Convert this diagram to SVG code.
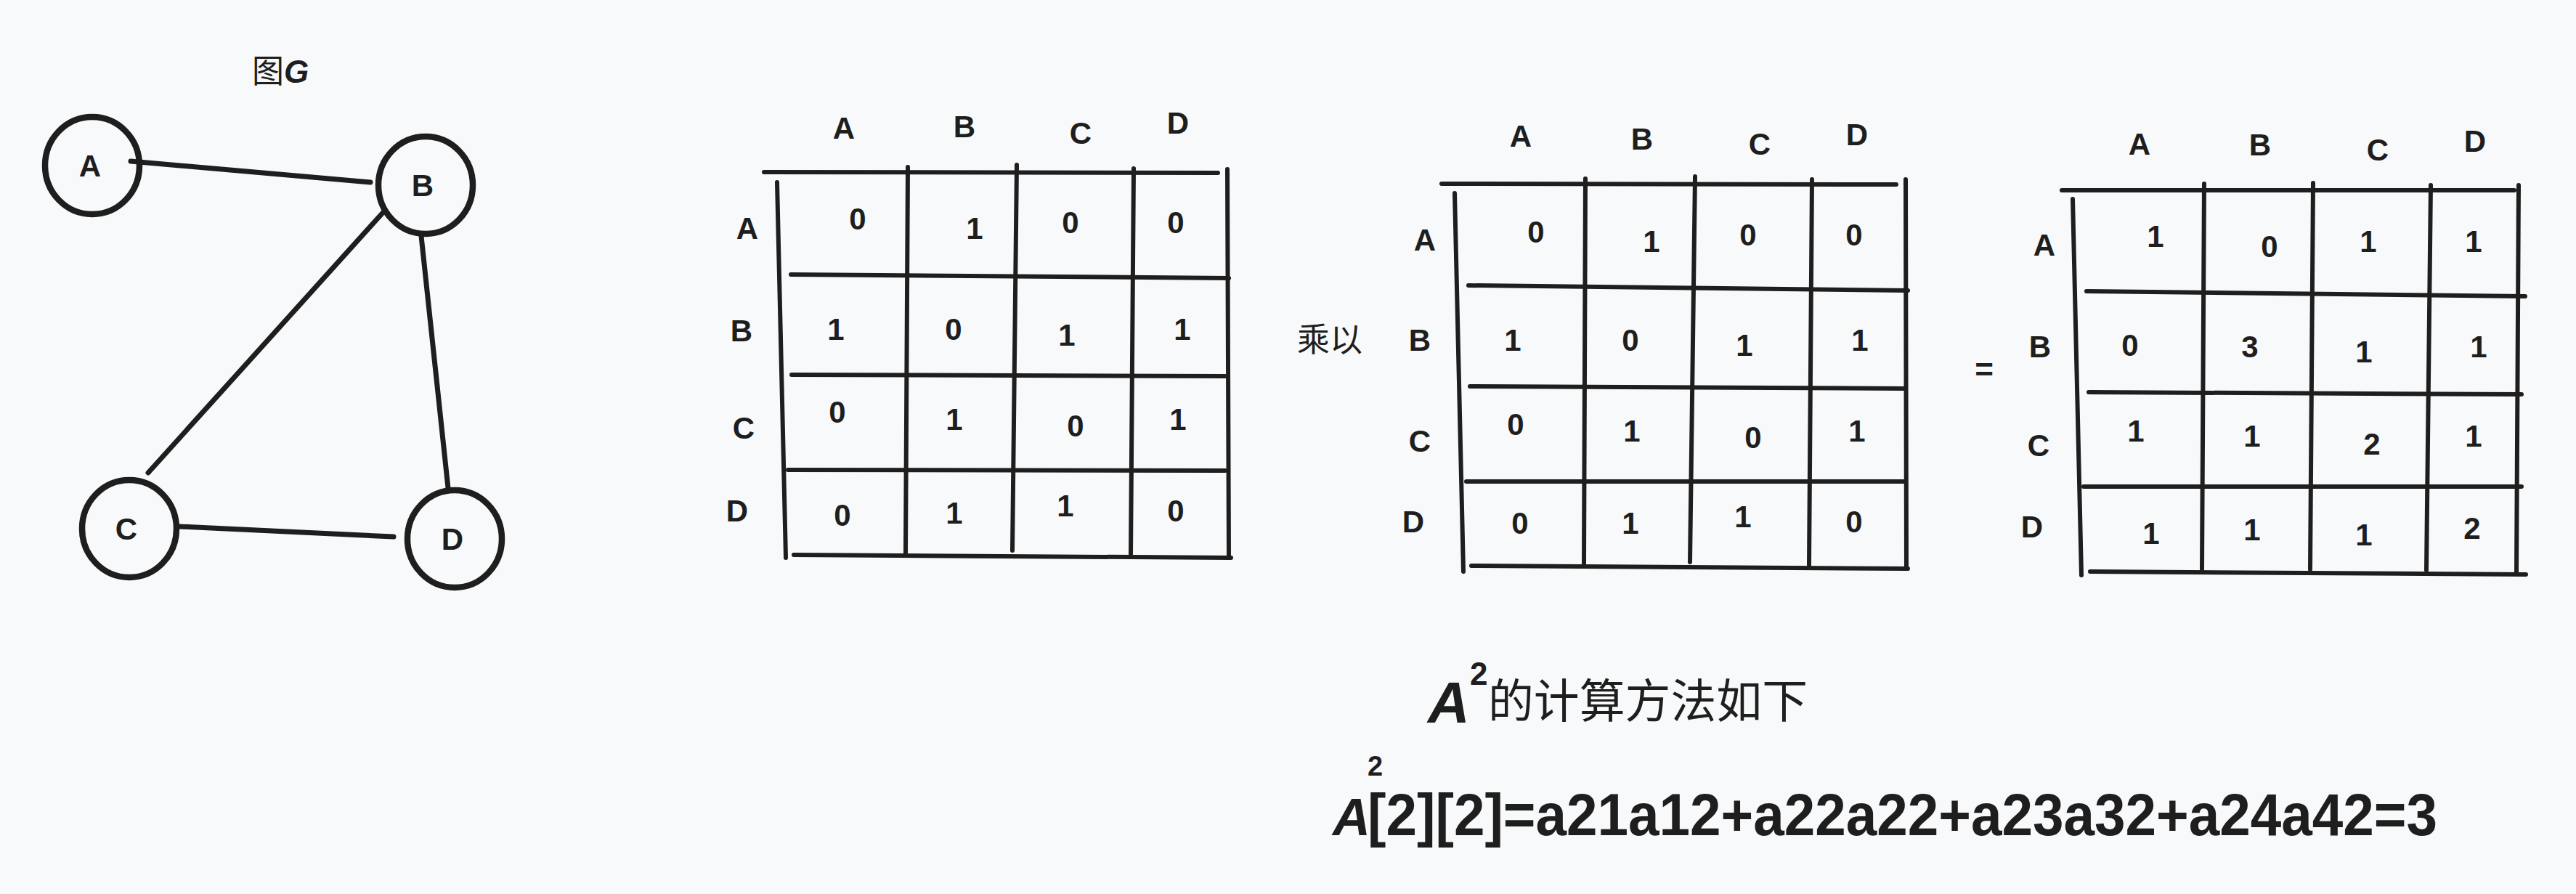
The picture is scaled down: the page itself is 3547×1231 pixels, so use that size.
<svg xmlns="http://www.w3.org/2000/svg" width="3547" height="1231" viewBox="0 0 3547 1231">
<style>
.bg{fill:#f8f9fa}
.node{fill:none;stroke:#1e1e1e;stroke-width:8.5}
.edge{stroke:#1e1e1e;stroke-width:7;stroke-linecap:round;fill:none}
.grid line{stroke:#1e1e1e;stroke-width:6;stroke-linecap:round}
.lbl{font-family:"Liberation Sans","Noto Sans CJK SC",sans-serif;font-size:42px;font-weight:bold;fill:#1e1e1e;text-anchor:middle}
.cjk{font-family:"Noto Sans CJK SC","Liberation Sans",sans-serif;fill:#1e1e1e}
.hand{font-family:"Liberation Sans","Noto Sans CJK SC",sans-serif;font-weight:bold;fill:#1e1e1e}
</style>
<rect class="bg" x="0" y="0" width="3547" height="1231"/>

<g id="title">
<text x="347" y="114" font-size="44"><tspan class="cjk">图</tspan><tspan class="hand" font-style="italic" font-size="44">G</tspan></text>
</g>

<g id="connectors">
<line class="edge" x1="180" y1="222" x2="510" y2="251"/>
<line class="edge" x1="527" y1="293" x2="204" y2="651"/>
<line class="edge" x1="580" y1="325" x2="617" y2="672"/>
<line class="edge" x1="247" y1="725" x2="542" y2="739"/>
</g>

<g id="node-A">
<ellipse class="node" cx="127" cy="228" rx="65" ry="67"/>
<text class="lbl" x="124" y="243">A</text>
</g>
<g id="node-B">
<ellipse class="node" cx="586" cy="255" rx="65" ry="67"/>
<text class="lbl" x="582" y="270">B</text>
</g>
<g id="node-C">
<ellipse class="node" cx="178" cy="728" rx="65" ry="67"/>
<text class="lbl" x="174" y="743">C</text>
</g>
<g id="node-D">
<ellipse class="node" cx="626" cy="742" rx="65" ry="67"/>
<text class="lbl" x="623" y="757">D</text>
</g>

<g id="matrix-1">
<g class="grid">
<line x1="1052" y1="237" x2="1677" y2="238"/>
<line x1="1070" y1="251" x2="1082" y2="768"/>
<line x1="1250" y1="230" x2="1247" y2="761"/>
<line x1="1400" y1="227" x2="1394" y2="758"/>
<line x1="1561" y1="232" x2="1557" y2="763"/>
<line x1="1690" y1="233" x2="1692" y2="768"/>
<line x1="1089" y1="378" x2="1692" y2="383"/>
<line x1="1090" y1="516" x2="1687" y2="518"/>
<line x1="1085" y1="647" x2="1687" y2="648"/>
<line x1="1093" y1="764" x2="1695" y2="768"/>
</g>
<text class="lbl" x="1162" y="191">A</text>
<text class="lbl" x="1328" y="189">B</text>
<text class="lbl" x="1488" y="198">C</text>
<text class="lbl" x="1622" y="184">D</text>
<text class="lbl" x="1029" y="329">A</text>
<text class="lbl" x="1021" y="470">B</text>
<text class="lbl" x="1024" y="604">C</text>
<text class="lbl" x="1015" y="718">D</text>
<text class="lbl" x="1181" y="316">0</text>
<text class="lbl" x="1342" y="329">1</text>
<text class="lbl" x="1474" y="321">0</text>
<text class="lbl" x="1619" y="321">0</text>
<text class="lbl" x="1151" y="468">1</text>
<text class="lbl" x="1313" y="468">0</text>
<text class="lbl" x="1469" y="476">1</text>
<text class="lbl" x="1628" y="468">1</text>
<text class="lbl" x="1153" y="582">0</text>
<text class="lbl" x="1314" y="592">1</text>
<text class="lbl" x="1481" y="601">0</text>
<text class="lbl" x="1622" y="592">1</text>
<text class="lbl" x="1160" y="724">0</text>
<text class="lbl" x="1314" y="721">1</text>
<text class="lbl" x="1467" y="711">1</text>
<text class="lbl" x="1619" y="718">0</text>
</g>

<g id="multiply-label">
<text class="cjk" x="1786" y="484" font-size="45">乘以</text>
</g>

<g id="matrix-2">
<g class="grid">
<line x1="1985" y1="253" x2="2611" y2="254"/>
<line x1="2003" y1="266" x2="2015" y2="787"/>
<line x1="2183" y1="246" x2="2181" y2="776"/>
<line x1="2334" y1="243" x2="2327" y2="774"/>
<line x1="2495" y1="247" x2="2491" y2="778"/>
<line x1="2624" y1="247" x2="2625" y2="783"/>
<line x1="2022" y1="393" x2="2627" y2="400"/>
<line x1="2024" y1="532" x2="2621" y2="535"/>
<line x1="2019" y1="663" x2="2621" y2="663"/>
<line x1="2026" y1="779" x2="2627" y2="783"/>
</g>
<text class="lbl" x="2094" y="202">A</text>
<text class="lbl" x="2261" y="206">B</text>
<text class="lbl" x="2423" y="213">C</text>
<text class="lbl" x="2557" y="200">D</text>
<text class="lbl" x="1962" y="345">A</text>
<text class="lbl" x="1955" y="483">B</text>
<text class="lbl" x="1955" y="622">C</text>
<text class="lbl" x="1946" y="733">D</text>
<text class="lbl" x="2115" y="334">0</text>
<text class="lbl" x="2274" y="347">1</text>
<text class="lbl" x="2407" y="338">0</text>
<text class="lbl" x="2553" y="338">0</text>
<text class="lbl" x="2083" y="483">1</text>
<text class="lbl" x="2245" y="483">0</text>
<text class="lbl" x="2402" y="490">1</text>
<text class="lbl" x="2561" y="483">1</text>
<text class="lbl" x="2087" y="599">0</text>
<text class="lbl" x="2247" y="608">1</text>
<text class="lbl" x="2414" y="617">0</text>
<text class="lbl" x="2557" y="608">1</text>
<text class="lbl" x="2093" y="735">0</text>
<text class="lbl" x="2245" y="735">1</text>
<text class="lbl" x="2400" y="726">1</text>
<text class="lbl" x="2553" y="733">0</text>
</g>

<g id="equals-label">
<text class="hand" x="2732" y="524" font-size="44" text-anchor="middle">=</text>
</g>

<g id="matrix-3">
<g class="grid">
<line x1="2839" y1="262" x2="3462" y2="262"/>
<line x1="2854" y1="274" x2="2866" y2="792"/>
<line x1="3035" y1="253" x2="3032" y2="784"/>
<line x1="3185" y1="252" x2="3181" y2="784"/>
<line x1="3347" y1="255" x2="3341" y2="785"/>
<line x1="3468" y1="255" x2="3465" y2="790"/>
<line x1="2873" y1="401" x2="3477" y2="408"/>
<line x1="2876" y1="540" x2="3472" y2="543"/>
<line x1="2869" y1="670" x2="3472" y2="670"/>
<line x1="2878" y1="787" x2="3478" y2="791"/>
</g>
<text class="lbl" x="2946" y="213">A</text>
<text class="lbl" x="3112" y="214">B</text>
<text class="lbl" x="3274" y="221">C</text>
<text class="lbl" x="3408" y="209">D</text>
<text class="lbl" x="2815" y="352">A</text>
<text class="lbl" x="2809" y="492">B</text>
<text class="lbl" x="2807" y="628">C</text>
<text class="lbl" x="2798" y="740">D</text>
<text class="lbl" x="2968" y="340">1</text>
<text class="lbl" x="3125" y="354">0</text>
<text class="lbl" x="3261" y="347">1</text>
<text class="lbl" x="3406" y="347">1</text>
<text class="lbl" x="2933" y="490">0</text>
<text class="lbl" x="3098" y="492">3</text>
<text class="lbl" x="3255" y="499">1</text>
<text class="lbl" x="3413" y="492">1</text>
<text class="lbl" x="2941" y="608">1</text>
<text class="lbl" x="3101" y="615">1</text>
<text class="lbl" x="3266" y="626">2</text>
<text class="lbl" x="3406" y="615">1</text>
<text class="lbl" x="2962" y="749">1</text>
<text class="lbl" x="3101" y="744">1</text>
<text class="lbl" x="3255" y="751">1</text>
<text class="lbl" x="3404" y="742">2</text>
</g>

<g id="caption">
<text class="hand" x="1966" y="995" font-size="80" font-style="italic">A</text>
<text class="hand" x="2024" y="943" font-size="44">2</text>
<text class="cjk" x="2049" y="988" font-size="64" textLength="440" lengthAdjust="spacingAndGlyphs">的计算方法如下</text>
</g>

<g id="formula">
<text class="hand" x="1835" y="1150" font-size="72" font-style="italic">A</text>
<text class="hand" x="1883" y="1068" font-size="38">2</text>
<text class="hand" x="1883" y="1150" font-size="82" textLength="1473" lengthAdjust="spacingAndGlyphs">[2][2]=a21a12+a22a22+a23a32+a24a42=3</text>
</g>
</svg>
